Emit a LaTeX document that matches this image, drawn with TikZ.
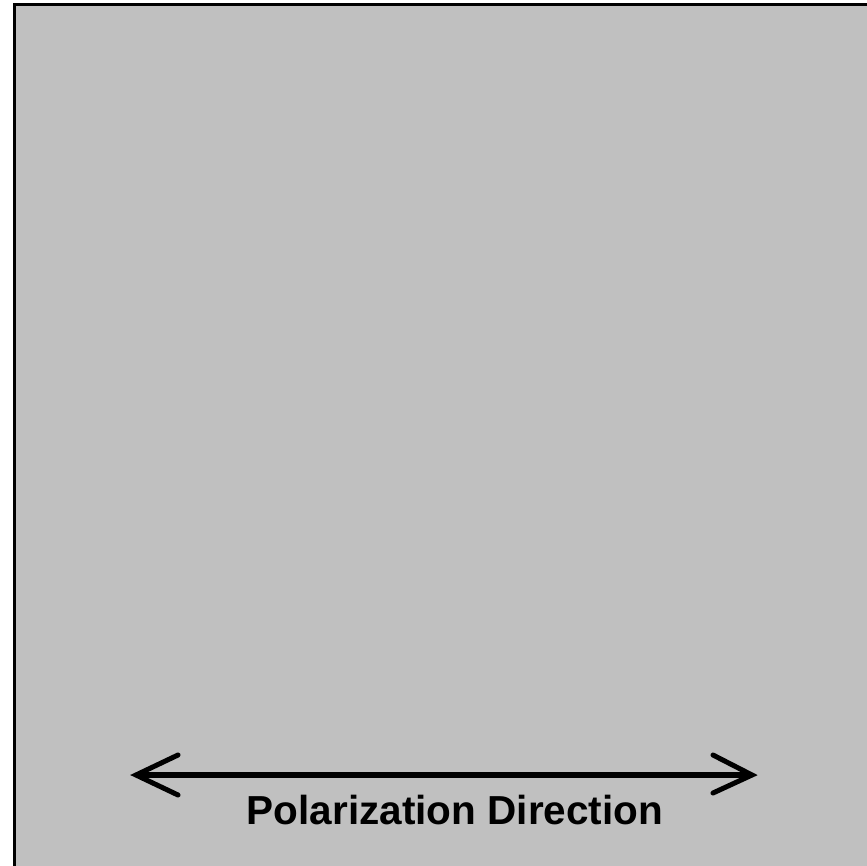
\documentclass[tikz,border=0pt]{standalone}
\usepackage{fontspec}
\setmainfont{Liberation Sans}
\usetikzlibrary{calc}
\begin{document}
\begin{tikzpicture}[x=1pt,y=-1pt,
  panel/.style={fill={rgb,255:red,192;green,192;blue,192},draw=black,line width=3pt},
  shaft/.style={draw=black,line width=6pt},
  barb/.style={draw=black,line width=5pt,line cap=round,line join=miter},
  label/.style={font=\fontsize{40.5}{48}\selectfont\bfseries,inner sep=0pt,anchor=base}]
\useasboundingbox (0,0) rectangle (866,866);
\path[panel] (14,5) rectangle (880,880);
\coordinate (L) at (136,775);
\coordinate (R) at (752,775);
\draw[shaft] ($(L)+(4,0)$) -- ($(R)+(-4,0)$);
\draw[barb] ($(L)+(42,-20)$) -- (L) -- ($(L)+(42,20)$);
\draw[barb] ($(R)+(-39,-20)$) -- (R) -- ($(R)+(-39,18)$);
\node[label] (t) at (455,824) {Polarization Direction};
\end{tikzpicture}
\end{document}
